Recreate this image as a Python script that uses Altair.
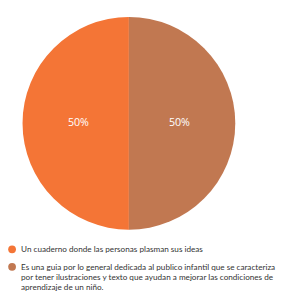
import altair as alt
import pandas as pd

categorias = [
    "Un cuaderno donde las personas plasman sus ideas",
    "Es una guia por lo general dedicada al publico infantil que se caracteriza por tener ilustraciones y texto que ayudan a mejorar las condiciones de aprendizaje de un niño.",
]
valores = [50, 50]
etiquetas = ["50%", "50%"]
orden = [1, 0]
colores = ["#F47536", "#C17851"]

df = pd.DataFrame({"cat": categorias, "valor": valores, "etiqueta": etiquetas, "orden": orden})

label_expr = (
    "datum.label == '" + categorias[0] + "' ? datum.label : "
    "['Es una guia por lo general dedicada al publico infantil que se caracteriza',"
    " 'por tener ilustraciones y texto que ayudan a mejorar las condiciones de',"
    " 'aprendizaje de un niño.']"
)

base = alt.Chart(df).encode(
    theta=alt.Theta("valor:Q", stack=True),
    order=alt.Order("orden:Q"),
)

pie = base.mark_arc(outerRadius=109.5).encode(
    x=alt.value(124.5),
    y=alt.value(114.5),
    color=alt.Color(
        "cat:N",
        scale=alt.Scale(domain=categorias, range=colores),
        legend=alt.Legend(
            title=None,
            orient="none",
            legendX=0,
            legendY=240,
            direction="vertical",
            symbolType="circle",
            symbolSize=64,
            symbolStrokeWidth=0,
            labelFont="Lato",
            labelFontSize=8.4,
            labelColor="#333333",
            labelLimit=500,
            labelOffset=5,
            labelExpr=label_expr,
            rowPadding=9,
        ),
    ),
)

text = base.mark_text(radius=52, fontSize=11, color="white", font="Open Sans").encode(
    x=alt.value(124.5),
    y=alt.value(114.5),
    text="etiqueta:N",
)

chart = (pie + text).properties(
    width=277, height=287, padding=0, autosize=alt.AutoSizeParams(type="none")
).configure_view(stroke=None)

chart.save("out.html", embed_options={"renderer": "svg", "actions": False})
